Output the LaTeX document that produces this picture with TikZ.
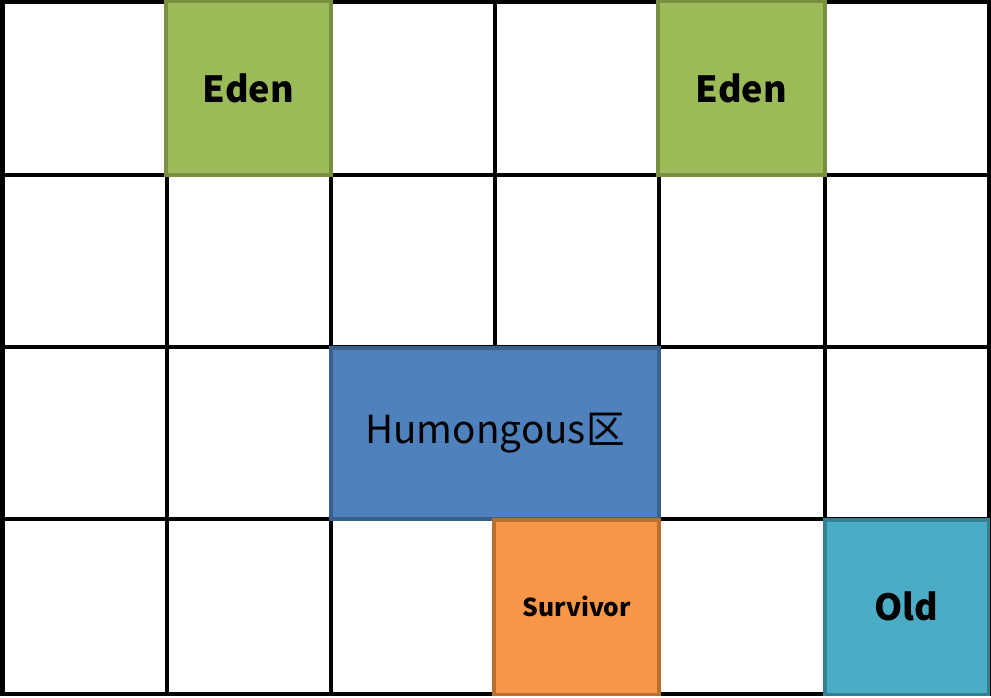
\documentclass[tikz,border=0pt]{standalone}
\usepackage{fontspec}
\setmainfont{Noto Sans CJK SC}
\definecolor{edenfill}{HTML}{9BBB59}
\definecolor{edenline}{HTML}{77903F}
\definecolor{humfill}{HTML}{4F81BD}
\definecolor{humline}{HTML}{3A5F8C}
\definecolor{survfill}{HTML}{F79646}
\definecolor{survline}{HTML}{B9702F}
\definecolor{oldfill}{HTML}{4BACC6}
\definecolor{oldline}{HTML}{357F93}
\begin{document}
\begin{tikzpicture}[x=0.75pt,y=-0.75pt,
  gridline/.style={line width=3pt,black},
  region/.style={line width=2.4pt,inner sep=0pt,outer sep=0pt},
  lbl/.style={font=\bfseries\fontsize{27}{31}\selectfont,text=black}]
\useasboundingbox (0,0) rectangle (991,698);
% grid
\foreach \x in {2.5,167,331,495,659,825,988.5}
  \draw[gridline] (\x,0.5) -- (\x,696);
\foreach \y in {2.5,175,347,519,694}
  \draw[gridline] (0.5,\y) -- (990.5,\y);
% regions
\draw[region,fill=edenfill,draw=edenline] (166,1.5) rectangle (331,175);
\node[lbl] (eden1) at (248.5,88) {Eden};
\draw[region,fill=edenfill,draw=edenline] (658,1.5) rectangle (825,175);
\node[lbl] (eden2) at (741.5,88) {Eden};
\draw[region,fill=humfill,draw=humline] (331,348) rectangle (659,519);
\node[font=\fontsize{29}{34}\selectfont,text=black] (hum) at (495,433) {Humongous区};
\draw[region,fill=survfill,draw=survline] (494,520) rectangle (659,694.5);
\node[font=\bfseries\fontsize{18.5}{22}\selectfont,text=black] (surv) at (577,606) {Survivor};
\draw[region,fill=oldfill,draw=oldline] (825,520) rectangle (988.5,694.5);
\node[lbl] (old) at (906,606) {Old};
\end{tikzpicture}
\end{document}
